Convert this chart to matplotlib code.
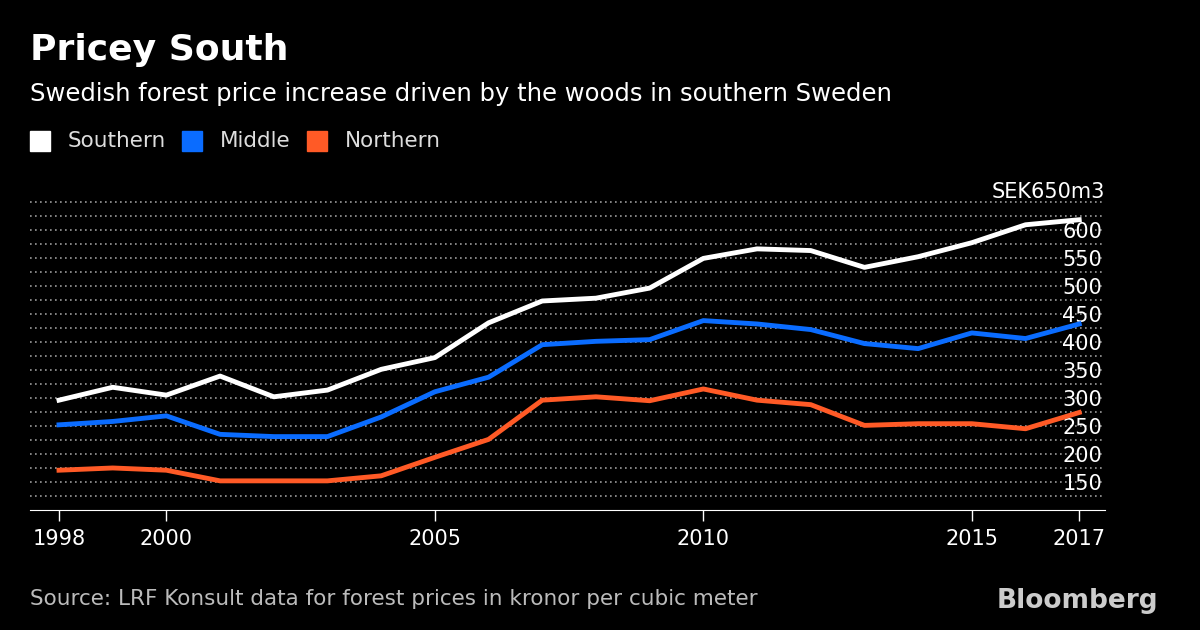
import matplotlib
matplotlib.use("Agg")
import matplotlib.pyplot as plt

years = list(range(1998, 2018))
southern = [296, 319, 305, 339, 302, 314, 351, 372, 434, 473, 478, 496, 549, 566, 563, 533, 552, 577, 609, 618]
middle = [252, 258, 268, 235, 231, 231, 266, 311, 337, 395, 401, 404, 438, 432, 422, 397, 388, 416, 406, 432]
northern = [171, 175, 171, 152, 152, 152, 161, 194, 226, 296, 302, 295, 316, 296, 288, 251, 254, 254, 245, 274]
series = [("Southern", southern, "#ffffff"), ("Middle", middle, "#0a6cff"), ("Northern", northern, "#ff5a26")]
xticks = [1998, 2000, 2005, 2010, 2015, 2017]
yticks = [150, 200, 250, 300, 350, 400, 450, 500, 550, 600]

plt.rcParams['font.family'] = ['DejaVu Sans']
fig = plt.figure(figsize=(12, 6.3), dpi=100, facecolor='black')
ax = fig.add_axes([30/1200, 120/630, 1075/1200, 311/630], facecolor='black')

for g in range(125, 651, 25):
    ax.axhline(g, color='#9a9a9a', lw=1.2, ls=(0, (1, 2)), zorder=1)
for name, vals, c in series:
    ax.plot(years, vals, color=c, lw=3.5, zorder=3)

ax.set_xlim(1997.46, 2017.48)
ax.set_ylim(100, 655)
ax.set_xticks(xticks)
ax.set_xticklabels([str(x) for x in xticks])
ax.yaxis.tick_right()
ax.set_yticks(yticks)
ax.tick_params(axis='y', length=0, colors='white', labelsize=15, pad=-2)
ax.tick_params(axis='x', colors='white', labelsize=15, length=8, width=1, direction='out', pad=6)
for lbl in ax.get_yticklabels():
    lbl.set_horizontalalignment('right')
for s in ['top', 'right', 'left']:
    ax.spines[s].set_visible(False)
ax.spines['bottom'].set_color('white')
ax.text(1.0, 650, 'SEK650m3', transform=ax.get_yaxis_transform(), color='white',
        fontsize=15, ha='right', va='bottom')

fig.text(30/1200, 1 - 50/630, 'Pricey South', color='white', fontsize=26, fontweight='bold', va='center')
fig.text(30/1200, 1 - 94/630, 'Swedish forest price increase driven by the woods in southern Sweden',
         color='white', fontsize=17.5, va='center')
lx = [30, 182, 307]
for (name, vals, c), x in zip(series, lx):
    fig.patches.append(plt.Rectangle((x/1200, 1 - 151/630), 20/1200, 20/630,
                                     transform=fig.transFigure, color=c))
    fig.text((x + 38)/1200, 1 - 141/630, name, color='#dddddd', fontsize=15.5, va='center')
fig.text(30/1200, 1 - 599/630, 'Source: LRF Konsult data for forest prices in kronor per cubic meter',
         color='#bbbbbb', fontsize=15.5, va='center')
fig.text(1158/1200, 1 - 601/630, 'Bloomberg', color='#cccccc', fontsize=19, fontweight='bold',
         ha='right', va='center')

fig.savefig('out.png', dpi=100, facecolor='black')
